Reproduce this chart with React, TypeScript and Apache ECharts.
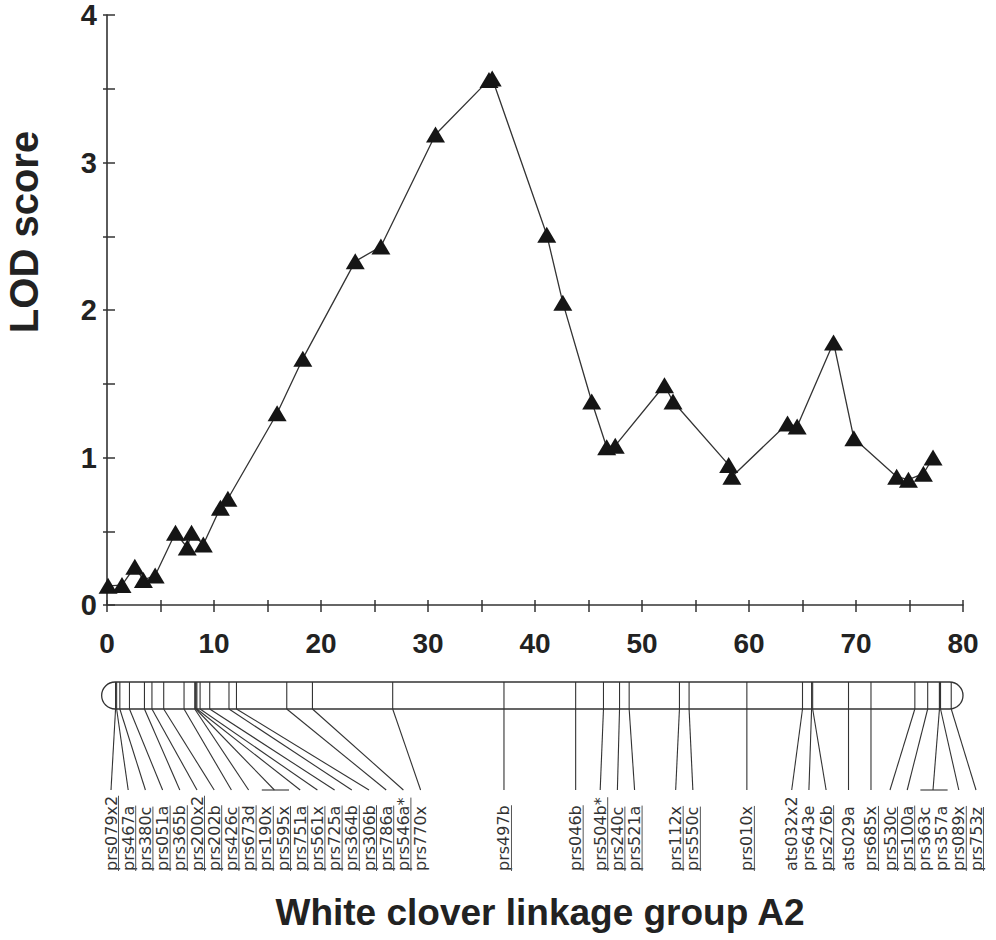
import React, { useEffect, useRef } from 'react';
import * as echarts from 'echarts';

// ---- LOD profile (cM, LOD) ----
const lodPos = [0.1, 1.4, 2.6, 3.4, 4.5, 6.4, 7.5, 7.9, 9.0, 10.6, 11.3, 15.9, 18.3, 23.2, 25.6, 30.7, 35.7, 36.0, 41.1, 42.6, 45.3, 46.7, 47.5, 52.1, 52.9, 58.1, 58.4, 63.6, 64.5, 67.9, 69.8, 73.8, 74.9, 76.3, 77.2];
const lodScore = [0.13, 0.135, 0.26, 0.17, 0.2, 0.49, 0.39, 0.49, 0.41, 0.66, 0.72, 1.3, 1.67, 2.33, 2.43, 3.19, 3.56, 3.57, 2.51, 2.05, 1.38, 1.07, 1.08, 1.49, 1.38, 0.95, 0.87, 1.23, 1.21, 1.78, 1.13, 0.87, 0.85, 0.89, 1.0];

// ---- linkage map markers ----
const markerNames = ['prs079x2', 'prs467a', 'prs380c', 'prs051a', 'prs365b', 'prs200x2', 'prs202b', 'prs426c', 'prs673d', 'prs190x', 'prs595x', 'prs751a', 'prs561x', 'prs725a', 'prs364b', 'prs306b', 'prs786a', 'prs546a*', 'prs770x', 'prs497b', 'prs046b', 'prs504b*', 'prs240c', 'prs521a', 'prs112x', 'prs550c', 'prs010x', 'ats032x2', 'prs643e', 'prs276b', 'ats029a', 'prs685x', 'prs530c', 'prs100a', 'prs363c', 'prs357a', 'prs089x', 'prs753z'];
const markerPos = [0.8, 0.9, 1.2, 2.1, 3.5, 4.2, 5.3, 7.2, 8.2, 8.3, 8.3, 8.4, 8.7, 9.6, 11.4, 12.1, 16.8, 19.2, 26.7, 37.1, 43.8, 46.4, 47.9, 48.8, 53.5, 54.4, 59.8, 65.0, 65.85, 65.95, 69.3, 71.4, 75.5, 76.7, 77.8, 77.8, 77.9, 78.9];
const markerUnderlined = [true, true, true, true, true, true, true, true, true, true, true, true, true, true, true, true, true, true, false, true, true, true, true, true, true, true, true, false, false, true, false, true, true, true, false, false, true, true];
const bracketPairs = [[9, 10], [34, 35]];
const chromExtent = [-0.5, 80];

const xRange = [0, 80];
const yRange = [0, 4];
const xTitle = 'White clover linkage group A2';
const yTitle = 'LOD score';

const boldFont = '"Liberation Sans", Arial, Helvetica, sans-serif';
const labelFontFamily = '"DejaVu Sans", sans-serif';
const labelFontSize = 16;

function spreadLabels(desired: number[], gap: number, minX: number, maxX: number): number[] {
  type C = { idx: number[]; start: number };
  const place = (c: C) => {
    let s = 0;
    c.idx.forEach((i, k) => { s += desired[i] - k * gap; });
    let start = s / c.idx.length;
    start = Math.max(minX, Math.min(start, maxX - (c.idx.length - 1) * gap));
    c.start = start;
  };
  let clusters: C[] = desired.map((d, i) => ({ idx: [i], start: d }));
  clusters.forEach(place);
  let changed = true;
  while (changed) {
    changed = false;
    for (let i = 0; i < clusters.length - 1; i++) {
      const a = clusters[i];
      const b = clusters[i + 1];
      if (a.start + a.idx.length * gap > b.start + 0.01) {
        const m: C = { idx: a.idx.concat(b.idx), start: 0 };
        place(m);
        clusters.splice(i, 2, m);
        changed = true;
        break;
      }
    }
  }
  const out: number[] = new Array(desired.length);
  clusters.forEach((c) => c.idx.forEach((i, k) => { out[i] = c.start + k * gap; }));
  return out;
}

export default function App() {
  const ref = useRef<HTMLDivElement>(null);
  useEffect(() => {
    document.body.style.margin = '0';
    const chart = echarts.init(ref.current!, null, { renderer: 'svg' });
    const axisColor = '#333';
    const option: any = {
      animation: false,
      backgroundColor: '#ffffff',
      grid: { left: 107, right: 33, top: 15, height: 590 },
      xAxis: [
        {
          type: 'value', min: xRange[0], max: xRange[1], interval: 10, position: 'bottom',
          axisLine: { show: true, lineStyle: { color: axisColor, width: 1.6 } },
          axisTick: { show: true, length: 7, lineStyle: { color: axisColor, width: 1.5 } },
          minorTick: { show: true, splitNumber: 2, length: 7, lineStyle: { color: axisColor, width: 1.5 } },
          splitLine: { show: false },
          axisLabel: { fontSize: 28, fontWeight: 'bold', color: '#222', margin: 24, fontFamily: boldFont },
        },
        {
          type: 'value', min: xRange[0], max: xRange[1], interval: 10, position: 'bottom',
          axisLine: { show: false },
          axisTick: { show: true, inside: true, length: 5, lineStyle: { color: axisColor, width: 1.5 } },
          minorTick: { show: true, splitNumber: 2, length: 5, lineStyle: { color: axisColor, width: 1.5 } },
          splitLine: { show: false },
          axisLabel: { show: false },
        },
      ],
      yAxis: [
        {
          type: 'value', min: yRange[0], max: yRange[1], interval: 1, position: 'left',
          axisLine: { show: true, lineStyle: { color: axisColor, width: 1.6 } },
          axisTick: { show: true, inside: true, length: 8, lineStyle: { color: axisColor, width: 1.5 } },
          minorTick: { show: true, splitNumber: 2, length: 8, lineStyle: { color: axisColor, width: 1.5 } },
          splitLine: { show: false },
          axisLabel: { fontSize: 29, fontWeight: 'bold', color: '#222', margin: 10, fontFamily: boldFont },
        },
        {
          type: 'value', min: yRange[0], max: yRange[1], interval: 1, position: 'left',
          axisLine: { show: false },
          axisTick: { show: true, inside: false, length: 4, lineStyle: { color: axisColor, width: 1.5 } },
          minorTick: { show: true, splitNumber: 2, length: 4, lineStyle: { color: axisColor, width: 1.5 } },
          splitLine: { show: false },
          axisLabel: { show: false },
        },
      ],
      series: [
        {
          type: 'line',
          xAxisIndex: 0,
          yAxisIndex: 0,
          data: lodPos.map((x, i) => [x, lodScore[i]]),
          symbol: 'triangle',
          symbolSize: [19, 16],
          showAllSymbol: true,
          clip: false,
          lineStyle: { color: '#333', width: 1.3 },
          itemStyle: { color: '#151515' },
        },
      ],
    };
    chart.setOption(option);

    const px = (v: number) => chart.convertToPixel({ xAxisIndex: 0 }, v) as unknown as number;
    const chromTop = 682;
    const chromH = 27;
    const chromBottom = chromTop + chromH;
    const leaderEnd = 790;
    const labelBase = 871;
    const lineStyle = { stroke: '#333', lineWidth: 1.1 };

    const elements: any[] = [];
    const cx0 = px(chromExtent[0]);
    const cx1 = px(chromExtent[1]);
    elements.push({
      type: 'rect',
      shape: { x: cx0, y: chromTop, width: cx1 - cx0, height: chromH, r: chromH / 2 },
      style: { fill: 'none', stroke: '#333', lineWidth: 1.3 },
    });
    markerPos.forEach((p) => {
      const x = px(p);
      elements.push({ type: 'line', shape: { x1: x, y1: chromTop, x2: x, y2: chromBottom }, style: lineStyle });
    });

    const desired = markerPos.map((p) => px(p));
    const labelX = spreadLabels(desired, 17.2, px(0) + 4, px(80) + 13);

    const bracketed = new Set<number>();
    bracketPairs.forEach(([a, b]) => {
      bracketed.add(a); bracketed.add(b);
      const mid = (labelX[a] + labelX[b]) / 2;
      elements.push({ type: 'line', shape: { x1: desired[a], y1: chromBottom, x2: mid, y2: leaderEnd }, style: lineStyle });
      elements.push({ type: 'line', shape: { x1: labelX[a] - 4, y1: leaderEnd, x2: labelX[b] + 6, y2: leaderEnd }, style: lineStyle });
    });
    markerPos.forEach((_, i) => {
      if (bracketed.has(i)) return;
      elements.push({ type: 'line', shape: { x1: desired[i], y1: chromBottom, x2: labelX[i], y2: leaderEnd }, style: lineStyle });
    });

    const ctx = document.createElement('canvas').getContext('2d')!;
    ctx.font = `${labelFontSize}px ${labelFontFamily}`;
    markerNames.forEach((name, i) => {
      const w = ctx.measureText(name).width;
      const children: any[] = [
        {
          type: 'text',
          style: {
            text: name, x: 0, y: 0, align: 'left', verticalAlign: 'middle',
            fontSize: labelFontSize, fontFamily: labelFontFamily, fill: '#333',
          },
        },
      ];
      if (markerUnderlined[i]) {
        children.push({ type: 'line', shape: { x1: 0, y1: 7.5, x2: w, y2: 7.5 }, style: { stroke: '#555', lineWidth: 1 } });
      }
      elements.push({ type: 'group', x: labelX[i], y: labelBase, rotation: Math.PI / 2, children });
    });

    elements.push({
      type: 'text', x: 24, y: 232, rotation: Math.PI / 2,
      style: { text: yTitle, align: 'center', verticalAlign: 'middle', fontSize: 40, fontWeight: 'bold', fontFamily: boldFont, fill: '#222' },
    });
    elements.push({
      type: 'text', x: 540, y: 912,
      style: { text: xTitle, align: 'center', verticalAlign: 'middle', fontSize: 37, fontWeight: 'bold', fontFamily: boldFont, fill: '#222' },
    });

    chart.setOption({ graphic: { elements } });
    return () => chart.dispose();
  }, []);
  return <div ref={ref} style={{ position: 'absolute', left: 0, top: 0, width: 996, height: 940 }} />;
}
